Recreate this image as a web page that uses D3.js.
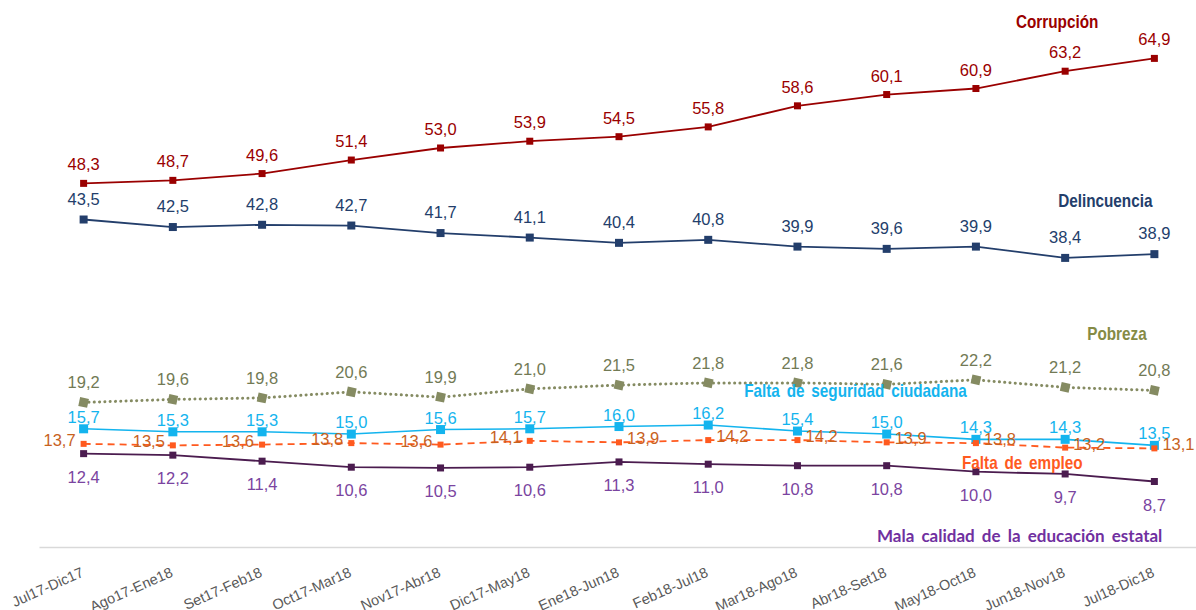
<!DOCTYPE html>
<html>
<head>
<meta charset="utf-8">
<script src="https://cdn.jsdelivr.net/npm/d3@7"></script>
<style>
  body { margin: 0; background: #fff; }
  svg text { font-family: "Liberation Sans", Arial, sans-serif; }
</style>
</head>
<body>
<div id="chart"></div>
<script>
// 1: DATA
const periods = ["Jul17-Dic17", "Ago17-Ene18", "Set17-Feb18", "Oct17-Mar18", "Nov17-Abr18",
    "Dic17-May18", "Ene18-Jun18", "Feb18-Jul18", "Mar18-Ago18", "Abr18-Set18",
    "May18-Oct18", "Jun18-Nov18", "Jul18-Dic18"];

const corrupcion   = [48.3, 48.7, 49.6, 51.4, 53.0, 53.9, 54.5, 55.8, 58.6, 60.1, 60.9, 63.2, 64.9];
const delincuencia = [43.5, 42.5, 42.8, 42.7, 41.7, 41.1, 40.4, 40.8, 39.9, 39.6, 39.9, 38.4, 38.9];
const pobreza      = [19.2, 19.6, 19.8, 20.6, 19.9, 21.0, 21.5, 21.8, 21.8, 21.6, 22.2, 21.2, 20.8];
const seguridad    = [15.7, 15.3, 15.3, 15.0, 15.6, 15.7, 16.0, 16.2, 15.4, 15.0, 14.3, 14.3, 13.5];
const empleo       = [13.7, 13.5, 13.6, 13.8, 13.6, 14.1, 13.9, 14.2, 14.2, 13.9, 13.8, 13.2, 13.1];
const educacion    = [12.4, 12.2, 11.4, 10.6, 10.5, 10.6, 11.3, 11.0, 10.8, 10.8, 10.0, 9.7, 8.7];

const seriesNames = ["Corrupción", "Delincuencia", "Pobreza", "Falta de seguridad ciudadana",
    "Falta de empleo", "Mala calidad de la educación estatal"];

// 2: SETUP
const width = 1196, height = 610;
const svg = d3.select("#chart").append("svg")
    .attr("width", width).attr("height", height);

const xBand = d3.scaleBand().domain(periods).range([39, 1199]);
const x = p => xBand(p) + xBand.bandwidth() / 2;
const y = d3.scaleLinear().domain([0, 70]).range([547, 20]);

const fmt = v => d3.format(".1f")(v).replace(".", ",");

// style per series
const series = [
    { name: seriesNames[0], values: corrupcion, line: "#9A0000", label: "#9A0000", mark: 7, dash: null, width: 1.8, dy: -13 },
    { name: seriesNames[1], values: delincuencia, line: "#233E6B", label: "#233E6B", mark: 8, dash: null, width: 1.8, dy: -15 },
    { name: seriesNames[2], values: pobreza, line: "#858B62", label: "#727A55", mark: 9, dash: "0.1,5.2", width: 3, dy: -14 },
    { name: seriesNames[3], values: seguridad, line: "#14B4EE", label: "#14B4EE", mark: 9, dash: null, width: 1.6, dy: -6 },
    { name: seriesNames[4], values: empleo, line: "#FF5A1F", label: "#C8621E", mark: 6, dash: "7,5", width: 1.8, dy: 2 },
    { name: seriesNames[5], values: educacion, line: "#4B1C4F", label: "#7A44A0", mark: 7, dash: null, width: 1.8, dy: 29 }
];

// 3: AXIS
const xAxis = svg.append("g")
    .attr("transform", `translate(0,${y(0)})`)
    .call(d3.axisBottom(xBand).tickSize(0).tickSizeOuter(0));
xAxis.select(".domain").attr("stroke", "#D9D9D9").attr("stroke-width", 1.5);
xAxis.selectAll("text")
    .attr("x", 0).attr("y", 0).attr("dy", 0)
    .attr("text-anchor", "end")
    .attr("transform", "translate(1,29) rotate(-24)")
    .style("font-size", "14.5px")
    .style("fill", "#595959")
    .style("font-family", "'Liberation Sans', Arial, sans-serif");

// 4: LINES + MARKERS
const line = d3.line()
    .x((d, i) => x(periods[i]))
    .y(d => y(d));

series.forEach(s => {
    svg.append("path")
        .attr("d", line(s.values))
        .attr("fill", "none")
        .attr("stroke", s.line)
        .attr("stroke-width", s.width)
        .attr("stroke-linecap", s.name === "Pobreza" ? "round" : "butt")
        .attr("stroke-dasharray", s.dash);

    svg.append("g").selectAll("rect")
        .data(s.values)
        .join("rect")
        .attr("x", (d, i) => x(periods[i]) - s.mark / 2)
        .attr("y", d => y(d) - s.mark / 2)
        .attr("width", s.mark)
        .attr("height", s.mark)
        .attr("fill", s.line)
        .attr("transform", (d, i) => s.name === "Pobreza" ? `rotate(12,${x(periods[i])},${y(d)})` : null);
});

// 5: VALUE LABELS
series.forEach(s => {
    const isEmpleo = s.name === "Falta de empleo";
    svg.append("g").selectAll("text")
        .data(s.values)
        .join("text")
        .attr("x", (d, i) => !isEmpleo ? x(periods[i]) : (i < 6 ? x(periods[i]) - 8 : x(periods[i]) + 8))
        .attr("y", d => y(d) + s.dy)
        .attr("text-anchor", (d, i) => !isEmpleo ? "middle" : (i < 6 ? "end" : "start"))
        .style("font-size", "16.5px")
        .style("fill", s.label)
        .text(d => fmt(d));
});

// 6: SERIES NAMES (bold, condensed)
const nameLabels = [
    { s: 0, at: 10.91, v: 68.9, color: "#9A0000" },
    { s: 1, at: 11.45, v: 45.1, color: "#233E6B" },
    { s: 2, at: 11.58, v: 27.5, color: "#858B45" },
    { s: 3, at: 8.65, v: 19.9, color: "#14B4EE" },
    { s: 4, at: 10.52, v: 10.3, color: "#FF5A1F" }
];
const xIdx = d3.scaleLinear().domain([0, periods.length - 1]).range([x(periods[0]), x(periods[periods.length - 1])]);
nameLabels.forEach(n => {
    svg.append("text")
        .attr("transform", `translate(${xIdx(n.at)},${y(n.v)}) scale(0.85,1)`)
        .attr("text-anchor", "middle")
        .style("font-size", "18px")
        .style("font-weight", "bold")
        .style("word-spacing", "3px")
        .style("fill", n.color)
        .text(seriesNames[n.s]);
});

svg.append("text")
    .attr("x", xIdx(10.49))
    .attr("y", y(0.6))
    .attr("text-anchor", "middle")
    .style("font-family", "Lato, 'Open Sans', sans-serif")
    .style("font-size", "17px")
    .style("font-weight", "bold")
    .style("word-spacing", "3px")
    .style("fill", "#7030A0")
    .text(seriesNames[5]);
</script>
</body>
</html>
